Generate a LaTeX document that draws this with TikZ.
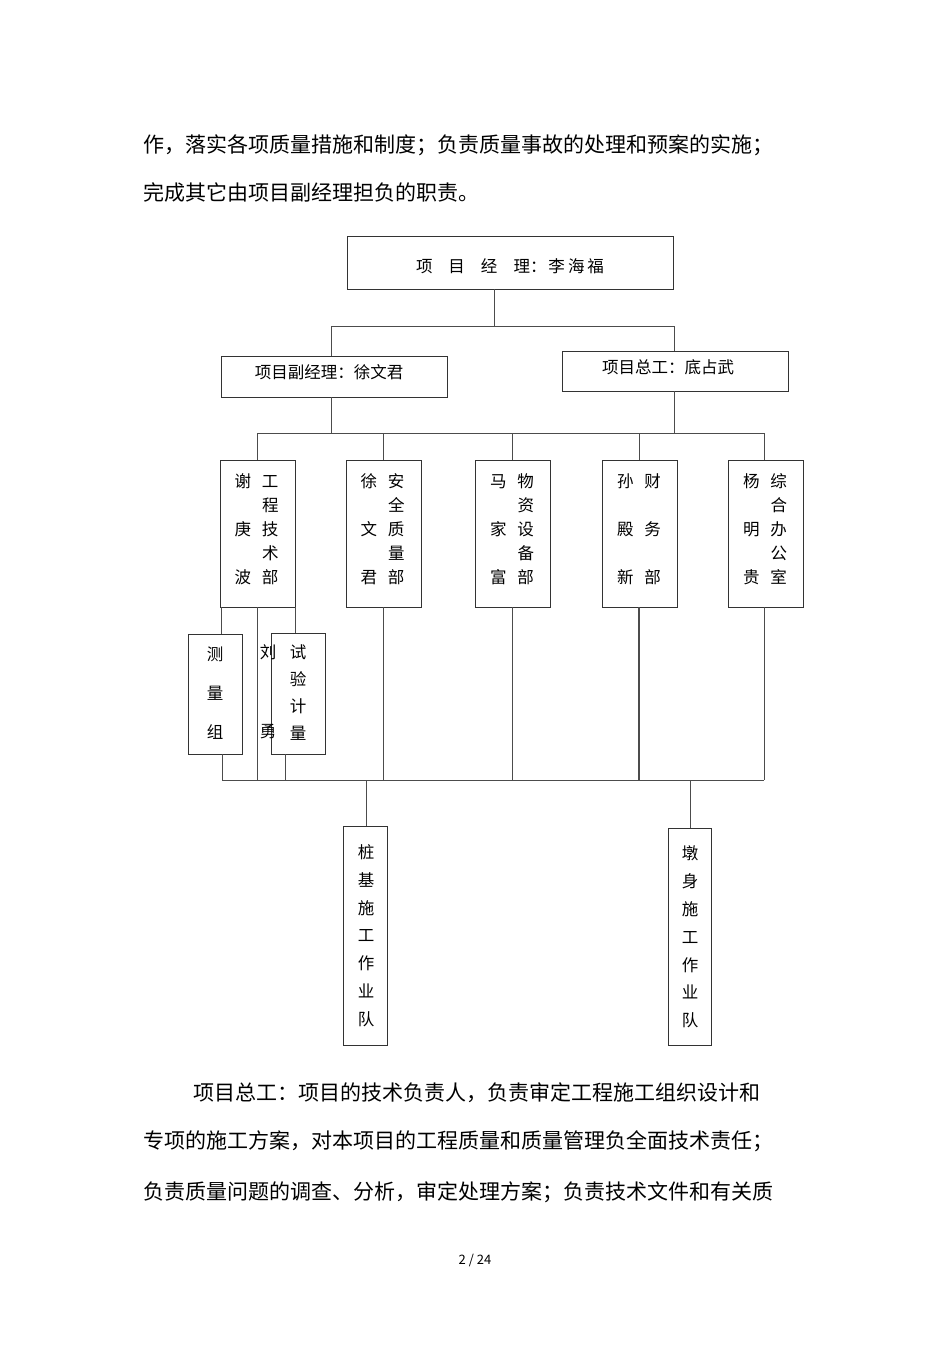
\documentclass[tikz,border=0pt]{standalone}
\usepackage{fontspec}
\setmainfont{Noto Sans CJK SC}
\begin{document}
\begin{tikzpicture}[x=1pt,y=-1pt,
  box/.style={draw=black!80,line width=0.9pt,inner sep=0pt},
  ln/.style={draw=black!70,line width=0.9pt},
  txt/.style={inner sep=0pt,font=\fontsize{16.5}{24}\selectfont},
  body/.style={inner sep=0pt,anchor=west,font=\fontsize{21}{24}\selectfont}]
\useasboundingbox (0,0) rectangle (950,1345);
\fill[white] (0,0) rectangle (950,1345);
% body text
\node[body] (t1) at (143,145) {作，落实各项质量措施和制度；负责质量事故的处理和预案的实施；};
\node[body] (t2) at (143,192) {完成其它由项目副经理担负的职责。};
\node[body] (t3) at (193,1093) {项目总工：项目的技术负责人，负责审定工程施工组织设计和};
\node[body] (t4) at (143,1141) {专项的施工方案，对本项目的工程质量和质量管理负全面技术责任；};
\node[body] (t5) at (143,1192) {负责质量问题的调查、分析，审定处理方案；负责技术文件和有关质};
\node[inner sep=0pt,font=\fontsize{13}{15}\selectfont] (pg) at (475,1260) {2 / 24};
% top boxes
\node[box,minimum width=326,minimum height=53] (pm) at (510,262.5) {};
\node[txt] (pmt) at (510,266) {项\hspace{16pt}目\hspace{16pt}经\hspace{16pt}理：\hspace{2pt}李\hspace{3pt}海\hspace{3pt}福};
\node[box,minimum width=226,minimum height=41] (dep) at (334,376.5) {};
\node[txt] (dept) at (329,372) {项目副经理：徐文君};
\node[box,minimum width=226,minimum height=40] (chf) at (675,371) {};
\node[txt] (chft) at (668,367) {项目总工：底占武};
% departments
\newcommand{\dept}[3]{%
  \node[box,minimum width=75,minimum height=147] (#1) at (#2,533.5) {};
  \node[txt] (#1t) at (#2-1,531) {\begin{tabular}{@{}c@{\hspace{11pt}}c@{}}#3\end{tabular}};}
\dept{d1}{257.5}{谢&工\\ &程\\ 庚&技\\ &术\\ 波&部}
\dept{d2}{383.5}{徐&安\\ &全\\ 文&质\\ &量\\ 君&部}
\dept{d3}{513}{马&物\\ &资\\ 家&设\\ &备\\ 富&部}
\dept{d4}{640}{孙&财\\ &\\ 殿&务\\ &\\ 新&部}
\dept{d5}{766}{杨&综\\ &合\\ 明&办\\ &公\\ 贵&室}
% sub groups
\node[box,minimum width=54,minimum height=120] (cl) at (215,694) {};
\node[txt,font=\fontsize{16.5}{39}\selectfont,align=center] (clt) at (215,693) {测\\量\\组};
\node[box,minimum width=54,minimum height=121] (sy) at (298,693.5) {};
\node[txt,font=\fontsize{16.5}{27}\selectfont,align=center] (syt) at (298,692.5) {试\\验\\计\\量};
\node[txt] (liu) at (268,652) {刘};
\node[txt] (yong) at (268,732) {勇};
% teams
\node[box,minimum width=44,minimum height=219] (zj) at (365,935.5) {};
\node[txt,font=\fontsize{16.5}{27.8}\selectfont,align=center] (zjt) at (366,935.5) {桩\\基\\施\\工\\作\\业\\队};
\node[box,minimum width=43,minimum height=217] (ds) at (689.5,936.5) {};
\node[txt,font=\fontsize{16.5}{27.8}\selectfont,align=center] (dst) at (690,937) {墩\\身\\施\\工\\作\\业\\队};
% connectors
\coordinate (j1) at (494,326);
\draw[ln] (pm.south -| j1) -- (j1);
\draw[ln] (331,326) -- (674,326);
\draw[ln] (331,326) -- (dep.north -| 331,0);
\draw[ln] (674,326) -- (chf.north -| 674,0);
\draw[ln] (dep.south -| 331,0) -- (331,433);
\draw[ln] (chf.south -| 674,0) -- (674,433);
\draw[ln] (257,433) -- (764,433);
\foreach \n/\x in {d1/257,d2/383,d3/512,d4/639,d5/764}
  \draw[ln] (\x,433) -- (\n.north -| \x,0);
\draw[ln] (d1.south -| 221,0) -- (cl.north -| 221,0);
\draw[ln] (d1.south -| 295,0) -- (sy.north -| 295,0);
\draw[ln] (d1.south -| 257,0) -- (257,780);
\draw[ln] (cl.south -| 222,0) -- (222,780);
\draw[ln] (sy.south -| 285,0) -- (285,780);
\draw[ln] (d2.south -| 383,0) -- (383,780);
\draw[ln] (d3.south -| 512,0) -- (512,780);
\draw[ln,line width=1.4pt] (d4.south -| 639,0) -- (639,780);
\draw[ln] (d5.south -| 764,0) -- (764,780);
\draw[ln] (222,780) -- (764,780);
\draw[ln] (366,780) -- (zj.north -| 366,0);
\draw[ln] (690,780) -- (ds.north -| 690,0);
\end{tikzpicture}
\end{document}
